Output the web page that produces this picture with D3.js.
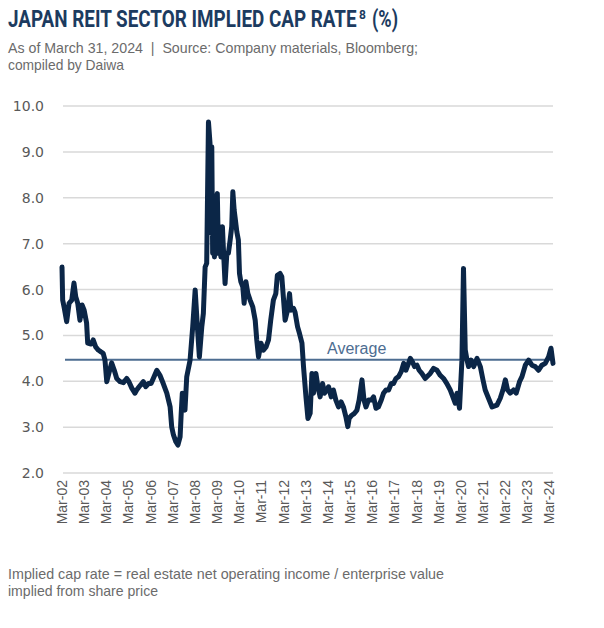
<!DOCTYPE html>
<html>
<head>
<meta charset="utf-8">
<script src="https://cdn.jsdelivr.net/npm/d3@7"></script>
<style>
  html, body { margin: 0; padding: 0; background: #fff; }
  svg { display: block; }
</style>
</head>
<body>
<div id="chart"></div>
<script>
/* --- data (decimal year, implied cap rate %) ----------------------------- */
const years = [
  2002.17, 2002.20, 2002.27, 2002.38, 2002.49, 2002.61, 2002.71, 2002.79, 2002.88, 2002.98,
  2003.08, 2003.17, 2003.28, 2003.33, 2003.48, 2003.58, 2003.69, 2003.81, 2003.93, 2004.03,
  2004.11, 2004.19, 2004.29, 2004.41, 2004.53, 2004.64, 2004.79, 2004.94, 2005.09, 2005.19,
  2005.32, 2005.46, 2005.54, 2005.65, 2005.77, 2005.84, 2005.95, 2006.07, 2006.19, 2006.29,
  2006.45, 2006.59, 2006.74, 2006.90, 2007.05, 2007.12, 2007.20, 2007.31, 2007.40, 2007.50,
  2007.55, 2007.60, 2007.72, 2007.80, 2007.95, 2008.07, 2008.18, 2008.28, 2008.37, 2008.48,
  2008.55, 2008.63, 2008.70, 2008.78, 2008.85, 2008.90, 2008.93, 2008.97, 2009.00, 2009.05,
  2009.12, 2009.18, 2009.23, 2009.27, 2009.34, 2009.41, 2009.45, 2009.53, 2009.61, 2009.68,
  2009.76, 2009.83, 2009.88, 2009.94, 2009.98, 2010.06, 2010.13, 2010.18, 2010.24, 2010.33,
  2010.39, 2010.47, 2010.56, 2010.66, 2010.78, 2010.89, 2010.96, 2011.04, 2011.15, 2011.26,
  2011.38, 2011.49, 2011.59, 2011.71, 2011.82, 2011.89, 2012.01, 2012.09, 2012.16, 2012.24,
  2012.35, 2012.44, 2012.50, 2012.62, 2012.69, 2012.80, 2012.89, 2013.00, 2013.07, 2013.18,
  2013.27, 2013.37, 2013.45, 2013.52, 2013.63, 2013.72, 2013.82, 2013.93, 2014.02, 2014.12,
  2014.20, 2014.32, 2014.42, 2014.53, 2014.65, 2014.77, 2014.87, 2014.98, 2015.07, 2015.13,
  2015.25, 2015.37, 2015.48, 2015.58, 2015.71, 2015.80, 2015.89, 2016.00, 2016.13, 2016.23,
  2016.34, 2016.45, 2016.58, 2016.68, 2016.79, 2016.91, 2017.03, 2017.13, 2017.24, 2017.36,
  2017.48, 2017.59, 2017.69, 2017.78, 2017.89, 2017.99, 2018.08, 2018.19, 2018.29, 2018.41,
  2018.56, 2018.79, 2018.94, 2019.09, 2019.24, 2019.39, 2019.54, 2019.69, 2019.81, 2019.92,
  2020.00, 2020.11, 2020.22, 2020.29, 2020.37, 2020.45, 2020.52, 2020.63, 2020.75, 2020.90,
  2021.05, 2021.17, 2021.27, 2021.42, 2021.58, 2021.80, 2021.95, 2022.07, 2022.18, 2022.28,
  2022.40, 2022.55, 2022.67, 2022.82, 2022.93, 2023.08, 2023.23, 2023.38, 2023.53, 2023.68,
  2023.83, 2023.98, 2024.13, 2024.24, 2024.33
];
const capRate = [
  6.49, 5.77, 5.60, 5.30, 5.70, 5.77, 6.14, 5.84, 5.70, 5.33,
  5.66, 5.55, 5.27, 4.83, 4.81, 4.90, 4.75, 4.68, 4.64, 4.61,
  4.46, 3.99, 4.18, 4.40, 4.24, 4.06, 3.99, 3.97, 4.06, 3.99,
  3.85, 3.74, 3.81, 3.88, 3.95, 3.99, 3.88, 3.95, 3.95, 4.06,
  4.24, 4.13, 3.95, 3.74, 3.44, 3.01, 2.83, 2.68, 2.61, 2.79,
  3.30, 3.74, 3.37, 4.10, 4.46, 5.19, 5.99, 5.19, 4.53, 5.19,
  5.48, 6.49, 6.57, 9.65, 9.19, 7.23, 9.11, 6.79, 8.02, 6.71,
  7.95, 8.09, 6.79, 7.37, 6.71, 7.37, 6.93, 6.13, 6.79, 6.79,
  7.08, 7.37, 8.13, 7.73, 7.58, 7.26, 7.08, 6.35, 6.17, 6.06,
  5.70, 6.17, 5.91, 5.77, 5.62, 5.33, 4.90, 4.53, 4.83, 4.68,
  4.75, 4.90, 5.33, 5.77, 5.91, 6.31, 6.35, 6.28, 5.84, 5.33,
  5.55, 5.91, 5.55, 5.59, 5.50, 5.19, 5.04, 4.83, 4.32, 3.66,
  3.19, 3.30, 4.17, 3.74, 4.17, 3.88, 3.66, 3.95, 3.74, 3.81,
  3.88, 3.66, 3.81, 3.59, 3.44, 3.55, 3.44, 3.23, 3.01, 3.19,
  3.26, 3.30, 3.37, 3.59, 4.03, 3.59, 3.44, 3.59, 3.59, 3.66,
  3.41, 3.44, 3.59, 3.74, 3.81, 3.81, 3.95, 3.95, 4.06, 4.10,
  4.21, 4.39, 4.24, 4.35, 4.50, 4.42, 4.32, 4.35, 4.24, 4.17,
  4.06, 4.17, 4.28, 4.24, 4.13, 4.06, 3.95, 3.81, 3.66, 3.52,
  3.74, 3.41, 4.46, 6.46, 4.68, 4.46, 4.32, 4.46, 4.32, 4.50,
  4.32, 4.03, 3.81, 3.63, 3.44, 3.48, 3.63, 3.81, 4.03, 3.81,
  3.74, 3.81, 3.74, 3.99, 4.10, 4.35, 4.46, 4.35, 4.32, 4.24,
  4.35, 4.39, 4.53, 4.72, 4.39
];
const averageRate = 4.47;
const yTicks = [2, 3, 4, 5, 6, 7, 8, 9, 10];
const xTickLabels = d3.range(2, 25).map(y => "Mar-" + String(y).padStart(2, "0"));
const xTickYears = d3.range(2002.17, 2024.18, 1);

/* --- layout ---------------------------------------------------------------- */
const width = 604, height = 628;
const plot = { left: 62, right: 553, top: 106, bottom: 473 };
const grey = "#595959";
const bodyFont = "'Liberation Sans Narrow', 'Liberation Sans', sans-serif";

const svg = d3.select("#chart").append("svg")
  .attr("width", width)
  .attr("height", height);

const x = d3.scaleLinear().domain([2002.17, 2024.33]).range([plot.left, plot.right]);
const y = d3.scaleLinear().domain([2, 10]).range([plot.bottom, plot.top]);

/* --- titles ---------------------------------------------------------------- */
// condensed bold title: draw at full size, then squeeze horizontally to fit
const condensed = (str, x0, y0, size, targetW) => {
  const g = svg.append("g");
  const t = g.append("text")
    .style("font-family", "Roboto, 'Liberation Sans', sans-serif")
    .style("font-weight", 700)
    .style("font-size", size + "px")
    .attr("fill", "#1c3b60")
    .text(str);
  const sx = targetW ? targetW / t.node().getComputedTextLength() : 1;
  g.attr("transform", `translate(${x0},${y0}) scale(${sx},1)`);
};
condensed("JAPAN REIT SECTOR IMPLIED CAP RATE", 8, 27, 23, 349);
condensed("8", 359, 19, 12, null);
condensed("(%)", 372, 27, 23, 26);

const sub = ["As of March 31, 2024  |  Source: Company materials, Bloomberg;", "compiled by Daiwa"];
svg.selectAll("text.sub").data(sub).join("text")
  .attr("class", "sub")
  .attr("x", 8).attr("y", (d, i) => 53 + i * 17)
  .attr("fill", "#6b6b6b")
  .style("font-family", bodyFont)
  .style("font-size", "15px")
  .style("white-space", "pre")
  .attr("textLength", (d, i) => i === 0 ? 410 : 116)
  .attr("lengthAdjust", "spacingAndGlyphs")
  .text(d => d);

/* --- grid & y axis --------------------------------------------------------- */
svg.append("g").selectAll("line").data(yTicks).join("line")
  .attr("x1", plot.left + 1).attr("x2", plot.right)
  .attr("y1", d => y(d)).attr("y2", d => y(d))
  .attr("stroke", "#d9d9d9").attr("stroke-width", 1.5);

svg.append("g").selectAll("text").data(yTicks).join("text")
  .attr("x", 44).attr("y", d => y(d) + 5)
  .attr("text-anchor", "end")
  .attr("fill", grey)
  .style("font-family", "'DejaVu Sans', sans-serif")
  .style("font-size", "14px")
  .text(d => d.toFixed(1));

/* --- x axis labels --------------------------------------------------------- */
svg.append("g").selectAll("text").data(xTickYears).join("text")
  .attr("transform", d => `translate(${x(d) + 5},${plot.bottom + 7}) rotate(-90)`)
  .attr("text-anchor", "end")
  .attr("fill", grey)
  .style("font-family", "'Liberation Sans', Arial, sans-serif")
  .style("font-size", "14px")
  .text((d, i) => xTickLabels[i]);

/* --- average line ---------------------------------------------------------- */
svg.append("line")
  .attr("x1", 65).attr("x2", plot.right)
  .attr("y1", y(averageRate)).attr("y2", y(averageRate))
  .attr("stroke", "#4d6d91").attr("stroke-width", 2);

svg.append("text")
  .attr("x", 327).attr("y", y(averageRate) - 6)
  .attr("fill", "#4d6d91")
  .style("font-family", bodyFont)
  .style("font-size", "16px")
  .text("Average");

/* --- series ---------------------------------------------------------------- */
const line = d3.line()
  .x((d, i) => x(years[i]))
  .y(d => y(d));

svg.append("path")
  .datum(capRate)
  .attr("d", line)
  .attr("fill", "none")
  .attr("stroke", "#0b2647")
  .attr("stroke-width", 5)
  .attr("stroke-linejoin", "round")
  .attr("stroke-linecap", "round");

/* --- footnote -------------------------------------------------------------- */
const foot = ["Implied cap rate = real estate net operating income / enterprise value", "implied from share price"];
svg.selectAll("text.foot").data(foot).join("text")
  .attr("class", "foot")
  .attr("x", 8).attr("y", (d, i) => 579 + i * 17)
  .attr("fill", "#6b6b6b")
  .style("font-family", bodyFont)
  .style("font-size", "15px")
  .attr("textLength", (d, i) => i === 0 ? 436 : 150)
  .attr("lengthAdjust", "spacingAndGlyphs")
  .text(d => d);
</script>
</body>
</html>
